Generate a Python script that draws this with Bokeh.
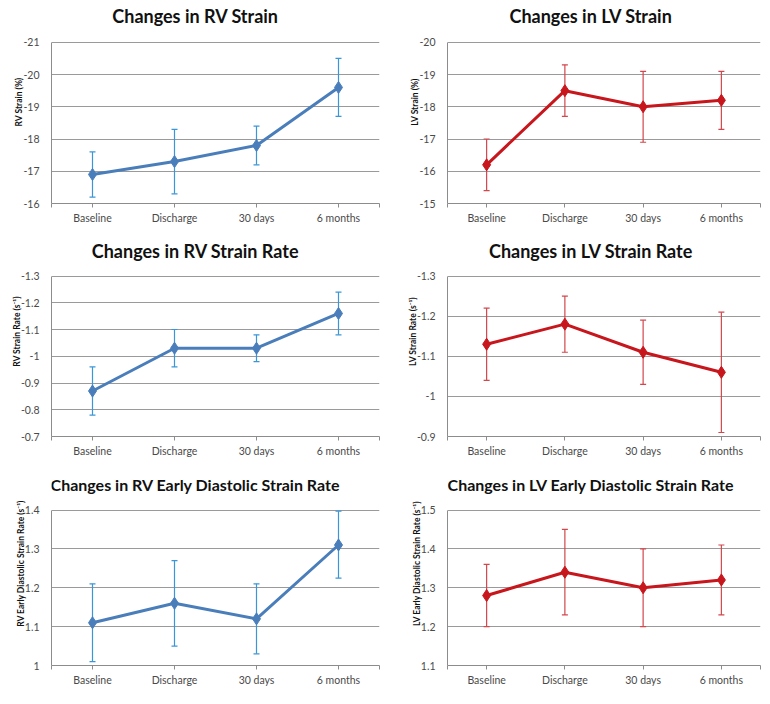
from bokeh.plotting import figure
from bokeh.layouts import column, row
from bokeh.models import (ColumnDataSource, Whisker, TeeHead, FixedTicker,
                          NumeralTickFormatter, Range1d, Label)
from bokeh.embed import file_html
from bokeh.resources import INLINE

# ---------------- data ----------------
categories = ["Baseline", "Discharge", "30 days", "6 months"]
x_pos = [0, 1, 2, 3]

rv_strain = [-16.9, -17.3, -17.8, -19.6]
rv_strain_upper = [-17.6, -18.3, -18.4, -20.5]
rv_strain_lower = [-16.2, -16.3, -17.2, -18.7]
rv_strain_ticks = [-16, -17, -18, -19, -20, -21]

lv_strain = [-16.2, -18.5, -18.0, -18.2]
lv_strain_upper = [-17.0, -19.3, -19.1, -19.1]
lv_strain_lower = [-15.4, -17.7, -16.9, -17.3]
lv_strain_ticks = [-15, -16, -17, -18, -19, -20]

rv_sr = [-0.87, -1.03, -1.03, -1.16]
rv_sr_upper = [-0.96, -1.10, -1.08, -1.24]
rv_sr_lower = [-0.78, -0.96, -0.98, -1.08]
rv_sr_ticks = [-0.7, -0.8, -0.9, -1.0, -1.1, -1.2, -1.3]

lv_sr = [-1.13, -1.18, -1.11, -1.06]
lv_sr_upper = [-1.22, -1.25, -1.19, -1.21]
lv_sr_lower = [-1.04, -1.11, -1.03, -0.91]
lv_sr_ticks = [-0.9, -1.0, -1.1, -1.2, -1.3]

rv_esr = [1.11, 1.16, 1.12, 1.31]
rv_esr_upper = [1.21, 1.27, 1.21, 1.397]
rv_esr_lower = [1.01, 1.05, 1.03, 1.225]
rv_esr_ticks = [1.0, 1.1, 1.2, 1.3, 1.4]

lv_esr = [1.28, 1.34, 1.30, 1.32]
lv_esr_upper = [1.36, 1.45, 1.40, 1.41]
lv_esr_lower = [1.20, 1.23, 1.20, 1.23]
lv_esr_ticks = [1.1, 1.2, 1.3, 1.4, 1.5]

BLUE, BLUE_ERR = "#4a7ebb", "#3b96d8"
RED, RED_ERR = "#c8161d", "#d2474c"
FONT = "Lato"


def panel(title, ylabel, means, upper, lower, ticks, color, err_color,
          width, height, left, right, bottom, head_px, title_size,
          title_dx, title_dy):
    # the frame runs from the top of the figure; the upper head_px pixels
    # are kept free above the top tick for the chart title
    frame_px = height - bottom
    plot_px = frame_px - head_px
    span = ticks[-1] - ticks[0]
    y_end = ticks[-1] + span * head_px / plot_px

    p = figure(output_backend="svg", toolbar_location=None,
               width=width, height=height,
               min_border_left=left, min_border_right=right,
               min_border_top=0, min_border_bottom=bottom,
               x_range=Range1d(-0.5, 3.5),
               y_range=Range1d(ticks[0], y_end),
               background_fill_color="white", border_fill_color="white")
    p.outline_line_color = None

    p.add_layout(Label(x=1.5, y=ticks[-1], x_offset=title_dx,
                       y_offset=title_dy, text=title,
                       text_font=FONT, text_font_size=title_size,
                       text_font_style="bold", text_color="#111111",
                       text_align="center", text_baseline="middle"))

    src = ColumnDataSource(dict(x=x_pos, y=means, upper=upper, lower=lower))
    wh = Whisker(base="x", upper="upper", lower="lower", source=src,
                 line_color=err_color, line_width=1.2,
                 upper_head=TeeHead(size=6, line_color=err_color, line_width=1.2),
                 lower_head=TeeHead(size=6, line_color=err_color, line_width=1.2))
    p.add_layout(wh)
    p.line("x", "y", source=src, line_color=color, line_width=3)
    p.scatter("x", "y", source=src, marker="diamond", size=12,
              fill_color=color, line_color=color)

    # x axis
    xa = p.xaxis[0]
    xa.ticker = FixedTicker(ticks=[-0.5] + x_pos + [3.5])
    overrides = {-0.5: "", 3.5: ""}
    for xv, c in zip(x_pos, categories):
        overrides[xv] = c
    xa.major_label_overrides = overrides
    xa.minor_tick_line_color = None
    xa.major_tick_in = 0
    xa.major_tick_out = 4
    xa.major_tick_line_color = "#8c8c8c"
    xa.axis_line_color = "#8c8c8c"
    xa.major_label_text_font = FONT
    xa.major_label_text_font_size = "10.5px"
    xa.major_label_text_color = "#4a4a4a"
    xa.major_label_standoff = 4

    # y axis
    ya = p.yaxis[0]
    ya.bounds = (min(ticks), max(ticks))
    ya.ticker = FixedTicker(ticks=ticks)
    ya.formatter = NumeralTickFormatter(format="0.[0]")
    ya.minor_tick_line_color = None
    ya.major_tick_in = 0
    ya.major_tick_out = 0
    ya.axis_line_color = "#8c8c8c"
    ya.major_label_text_font = FONT
    ya.major_label_text_font_size = "10.5px"
    ya.major_label_text_color = "#4a4a4a"
    ya.major_label_standoff = 12
    ya.axis_label = ylabel
    ya.axis_label_text_font = FONT
    ya.axis_label_text_font_size = "8.5px"
    ya.axis_label_text_font_style = "bold"
    ya.axis_label_text_color = "#111111"
    ya.axis_label_standoff = -4

    p.xgrid.grid_line_color = None
    p.ygrid.grid_line_color = "#9a9a9a"
    p.ygrid.grid_line_width = 1
    return p


W = 381
p1 = panel("Changes in RV Strain", "RV Strain (%)", rv_strain, rv_strain_upper,
           rv_strain_lower, rv_strain_ticks, BLUE, BLUE_ERR,
           W, 226, 51, 2, 22, 42, "18px", -20, 26)
p2 = panel("Changes in LV Strain", "LV Strain (%)", lv_strain, lv_strain_upper,
           lv_strain_lower, lv_strain_ticks, RED, RED_ERR,
           W, 226, 66, 2, 22, 42, "18px", -13, 26)
p3 = panel("Changes in RV Strain Rate", "RV Strain Rate (s\u207b\u00b9)", rv_sr,
           rv_sr_upper, rv_sr_lower, rv_sr_ticks, BLUE, BLUE_ERR,
           W, 233, 51, 2, 21, 50, "18px", -20, 25)
p4 = panel("Changes in LV Strain Rate", "LV Strain Rate (s\u207b\u00b9)", lv_sr,
           lv_sr_upper, lv_sr_lower, lv_sr_ticks, RED, RED_ERR,
           W, 233, 66, 2, 21, 50, "18px", -13, 25)
p5 = panel("Changes in RV Early Diastolic Strain Rate",
           "RV Early Diastolic  Strain Rate (s\u207b\u00b9)", rv_esr,
           rv_esr_upper, rv_esr_lower, rv_esr_ticks, BLUE, BLUE_ERR,
           W, 229, 51, 2, 21, 51, "16px", -20, 26)
p6 = panel("Changes in LV Early Diastolic Strain Rate",
           "LV Early Diastolic  Strain Rate (s\u207b\u00b9)", lv_esr,
           lv_esr_upper, lv_esr_lower, lv_esr_ticks, RED, RED_ERR,
           W, 229, 66, 2, 21, 51, "16px", -13, 26)

layout = column(row(p1, p2), row(p3, p4), row(p5, p6))

open("out.html", "w").write(file_html(layout, INLINE))
